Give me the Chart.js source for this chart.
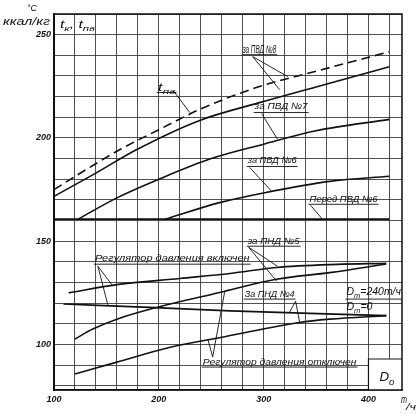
<!DOCTYPE html>
<html>
<head>
<meta charset="utf-8">
<script src="https://cdn.jsdelivr.net/npm/chart.js@4.4.1/dist/chart.umd.min.js"></script>
<style>
  html, body { margin: 0; padding: 0; background: #fff; }
  #wrap { width: 418px; height: 417px; }
</style>
</head>
<body>
<div id="wrap"><canvas id="chart" width="418" height="417"></canvas></div>
<script>
// расход пара D0, т/ч  ->  температура / энтальпия
const xTickLabels = [100, 200, 300, 400];
const yTickLabels = [100, 150, 200, 250];

// t пв (пунктир)
const tpvX = [100, 130, 163, 200, 239, 293, 350, 420];
const tpvY = [175, 184.5, 194.4, 204, 213.8, 224.4, 232.3, 241.7];
// за ПВД №8
const pvd8X = [100, 140, 179, 239, 296, 350, 420];
const pvd8Y = [171.7, 183, 194.4, 208.5, 217.1, 224.7, 234.5];
// за ПВД №7
const pvd7X = [123, 160, 200, 250, 300, 350, 420];
const pvd7Y = [160.7, 171, 180, 190, 197, 203.5, 209];
// за ПВД №6
const pvd6X = [206, 258, 301, 363, 420];
const pvd6Y = [160.7, 168.7, 173.5, 179, 181.5];
// перед ПВД №6
const pered6X = [100, 420];
const pered6Y = [160.7, 160.7];
// за ПНД №5, регулятор включен / отключен
const pnd5OnX = [114, 160, 220, 268, 312, 370, 417];
const pnd5OnY = [125, 129, 132, 134.4, 137.3, 138.8, 139.3];
const pnd5OffX = [120, 137, 160, 196, 258, 312, 363, 417];
const pnd5OffY = [102.7, 107.5, 112.3, 117.7, 125.2, 131.6, 134.8, 139];
// за ПНД №4, регулятор включен / отключен
const pnd4OnX = [109, 191, 268, 417];
const pnd4OnY = [119.6, 118, 116.3, 114];
const pnd4OffX = [120, 160, 210, 265, 334, 363, 417];
const pnd4OffY = [85.7, 91.5, 98.6, 104, 110.7, 112.3, 114];

function zip(xs, ys) {
    return xs.map((x, i) => ({ x: x, y: ys[i] }));
}

function curve(xs, ys, dash) {
    return {
        data: zip(xs, ys),
        borderColor: '#111',
        borderWidth: 1.6,
        borderDash: dash || [],
        pointRadius: 0,
        showLine: true,
        fill: false,
        cubicInterpolationMode: 'monotone'
    };
}

const FONT = 'Liberation Sans';

// подписи на поле графика (в единицах осей)
const notes = [
    { parts: [['t'], ['пв', 1]], x: 199, x2: 216, y: 222.9, size: 10, u: 222.0,
      lead: [[215.2, 222.0, 229.5, 212.3]] },
    { parts: [['за ПВД №8']], x: 280, x2: 312, y: 241.3, size: 11, u: 240.3,
      lead: [[289.5, 239.4, 322.9, 229.7], [289.5, 239.4, 315.2, 223.4]] },
    { parts: [['за ПВД №7']], x: 291.4, x2: 341.9, y: 213.8, size: 9, u: 212.3,
      lead: [[298.1, 211.8, 313.3, 199.3]] },
    { parts: [['за ПВД №6']], x: 284.8, x2: 331.4, y: 187.7, size: 9, u: 186.2,
      lead: [[286.7, 185.7, 307.6, 174.2]] },
    { parts: [['Перед ПВД №6']], x: 343.8, x2: 408.6, y: 168.8, size: 9, u: 167.9,
      lead: [[344.8, 167.4, 356.2, 160.6]] },
    { parts: [['за ПНД №5']], x: 284.8, x2: 334.3, y: 148.6, size: 9, u: 147.6,
      lead: [[285.7, 147.1, 313.3, 137.9], [285.7, 147.1, 312.4, 130.7]] },
    { parts: [['Регулятор давления включен']], x: 139, x2: 286.7, y: 140.3, size: 9, u: 138.9,
      lead: [[141.9, 137.9, 156.2, 128.3], [141.9, 137.9, 151.4, 119.1]] },
    { parts: [['За ПНД №4']], x: 281.9, x2: 329.5, y: 122.9, size: 9, u: 122.0,
      lead: [[330.5, 121, 324.8, 115.7], [330.5, 121, 334.3, 110.9]] },
    { parts: [['D'], ['т', 1], ['=240т/ч']], x: 379, x2: 431, y: 123.9, size: 10, u: 122.0 },
    { parts: [['D'], ['т', 1], ['=0']], x: 379, x2: 403.8, y: 116.7, size: 10 },
    { parts: [['Регулятор давления отключен']], x: 241.9, x2: 388.6, y: 90.1, size: 9, u: 89.1,
      lead: [[251.4, 94, 246.7, 102.7], [251.4, 94, 262.9, 125.8]] },
    { parts: [['t'], ['к', 1], [', t'], ['пв', 1]], x: 105.7, x2: 139, y: 253.4, size: 11 },
];
// рамка "D0" в правом нижнем углу
const boxX = 400, boxY = 93;
const boxLabel = { parts: [['D'], ['o', 1]], x: 410.5, x2: 424.8, y: 82.4, size: 12 };

function fitText(ctx, parts, size, px, py, width) {
    let w = 0;
    parts.forEach(p => {
        ctx.font = 'italic ' + (p[1] ? size * 0.72 : size) + 'px "' + FONT + '"';
        w += ctx.measureText(p[0]).width;
    });
    ctx.save();
    ctx.translate(px, py);
    ctx.scale(width / w, 1);
    ctx.fillStyle = '#111';
    ctx.textBaseline = 'alphabetic';
    let cx = 0;
    parts.forEach(p => {
        ctx.font = 'italic ' + (p[1] ? size * 0.72 : size) + 'px "' + FONT + '"';
        ctx.fillText(p[0], cx, p[1] ? size * 0.3 : 0);
        cx += ctx.measureText(p[0]).width;
    });
    ctx.restore();
}

function drawText(ctx, sx, sy, n) {
    const px = sx.getPixelForValue(n.x);
    const px2 = sx.getPixelForValue(n.x2);
    const py = sy.getPixelForValue(n.y);
    fitText(ctx, n.parts, n.size, px, py, px2 - px);
    ctx.strokeStyle = '#111';
    ctx.lineWidth = 0.9;
    if (n.u !== undefined) {
        const uy = sy.getPixelForValue(n.u);
        ctx.beginPath();
        ctx.moveTo(px - 1, uy);
        ctx.lineTo(px2 + 1, uy);
        ctx.stroke();
    }
    (n.lead || []).forEach(l => {
        ctx.beginPath();
        ctx.moveTo(sx.getPixelForValue(l[0]), sy.getPixelForValue(l[1]));
        ctx.lineTo(sx.getPixelForValue(l[2]), sy.getPixelForValue(l[3]));
        ctx.stroke();
    });
}

const notesPlugin = {
    id: 'notes',
    afterDatasetsDraw(chart) {
        const ctx = chart.ctx;
        const sx = chart.scales.x, sy = chart.scales.y;
        const ca = chart.chartArea;
        ctx.save();
        // рамка D0
        const bx = sx.getPixelForValue(boxX), by = sy.getPixelForValue(boxY);
        ctx.fillStyle = '#fff';
        ctx.fillRect(bx, by, ca.right - bx, ca.bottom - by);
        ctx.strokeStyle = '#111';
        ctx.lineWidth = 1.2;
        ctx.beginPath();
        ctx.moveTo(bx, ca.bottom);
        ctx.lineTo(bx, by);
        ctx.lineTo(ca.right, by);
        ctx.stroke();
        drawText(ctx, sx, sy, boxLabel);
        notes.forEach(n => drawText(ctx, sx, sy, n));

        // рамка поля
        ctx.strokeStyle = '#111';
        ctx.lineWidth = 1.5;
        ctx.strokeRect(ca.left, ca.top, ca.right - ca.left, ca.bottom - ca.top);

        // единицы осей
        fitText(ctx, [['°C']], 9, ca.left - 27, ca.top - 3, 10);
        fitText(ctx, [['ккал/кг']], 10, ca.left - 51, ca.top + 11, 47);
        fitText(ctx, [['т']], 10, ca.right - 1, ca.bottom + 13, 6);
        fitText(ctx, [['/ч']], 9, ca.right + 4, ca.bottom + 20, 10);
        ctx.restore();
    }
};

const gridX = [];
for (let v = 100; v <= 420; v += 20) gridX.push(v);
const gridY = [];
for (let v = 80; v <= 260; v += 10) gridY.push(v);

new Chart(document.getElementById('chart'), {
    type: 'scatter',
    data: {
        datasets: [
            curve(tpvX, tpvY, [9, 5]),
            curve(pvd8X, pvd8Y),
            curve(pvd7X, pvd7Y),
            curve(pvd6X, pvd6Y),
            curve(pered6X, pered6Y),
            curve(pnd5OnX, pnd5OnY),
            curve(pnd5OffX, pnd5OffY),
            curve(pnd4OnX, pnd4OnY),
            curve(pnd4OffX, pnd4OffY)
        ]
    },
    options: {
        responsive: false,
        animation: false,
        layout: { padding: { top: 14, right: 16, left: 0, bottom: 0 } },
        plugins: {
            legend: { display: false },
            tooltip: { enabled: false }
        },
        scales: {
            x: {
                type: 'linear',
                min: 100,
                max: 432,
                afterBuildTicks: s => { s.ticks = gridX.map(v => ({ value: v })); },
                afterFit: s => { s.height = 27; },
                grid: { color: '#3c3c3c', lineWidth: 0.9, drawTicks: false },
                border: { color: '#111', width: 1.5 },
                ticks: {
                    autoSkip: false,
                    maxRotation: 0,
                    padding: 4,
                    color: '#111',
                    font: { family: FONT, style: 'italic', weight: 'bold', size: 9 },
                    callback: v => xTickLabels.includes(v) ? String(v) : ''
                }
            },
            y: {
                type: 'linear',
                min: 78,
                max: 260,
                afterBuildTicks: s => { s.ticks = gridY.map(v => ({ value: v })); },
                afterFit: s => { s.width = 54; },
                grid: { color: '#3c3c3c', lineWidth: 0.9, drawTicks: false },
                border: { color: '#111', width: 2 },
                ticks: {
                    autoSkip: false,
                    padding: 3,
                    color: '#111',
                    font: { family: FONT, style: 'italic', weight: 'bold', size: 9 },
                    callback: v => yTickLabels.includes(v) ? String(v) : ''
                }
            }
        }
    },
    plugins: [notesPlugin]
});
</script>
</body>
</html>
